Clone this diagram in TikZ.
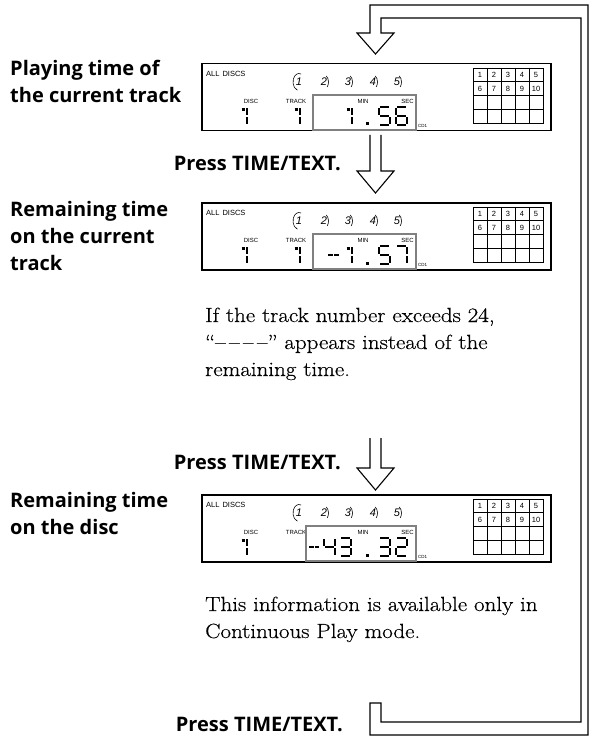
\documentclass[tikz,border=0pt]{standalone}
\usepackage{fontspec}
\setsansfont{Liberation Sans}
\newfontfamily\labelfont{Open Sans}
\newfontfamily\notefont[FakeStretch=1.12, FakeBold=0.4]{Latin Modern Roman}
\usepackage{tikz}
\usetikzlibrary{positioning}

% one 7-segment digit, #1/#2 top left, #3 list of segments
\newcommand{\lcd}[3]{%
  \begin{scope}[shift={(#1,#2)}]
    \coordinate (a1) at (0,0);  \coordinate (a2) at (11,0);
    \coordinate (b1) at (11,0); \coordinate (b2) at (11,9);
    \coordinate (c1) at (11,9); \coordinate (c2) at (11,18);
    \coordinate (d1) at (0,18); \coordinate (d2) at (11,18);
    \coordinate (e1) at (0,9);  \coordinate (e2) at (0,18);
    \coordinate (f1) at (0,0);  \coordinate (f2) at (0,9);
    \coordinate (g1) at (0,9);  \coordinate (g2) at (11,9);
    \coordinate (h1) at (4.5,2.5); \coordinate (h2) at (10,2.5);
    \foreach \s in {#3} \draw[lcdseg] (\s1) -- (\s2);
  \end{scope}}

% display frame with labels, #1 name, #2 left edge of the time box
\newcommand{\lcdpanel}[2]{%
  \node[panelframe, anchor=north west, minimum width=349pt, minimum height=67pt] (#1) at (0,0) {};
  \node[tinytext, font=\sffamily\fontsize{7.5}{8}\selectfont, anchor=west] (#1-all) at (5,11) {ALL\hspace{3pt}DISCS};
  \foreach \k/\x in {1/98,2/123,3/147,4/172,5/196}
    \node[discno] (#1-n\k) at (\x,19) {\k};
  \draw[line width=0.6pt] (98,19) ++(290:6 and 8.5) arc[start angle=290, end angle=105, x radius=6, y radius=8.5];
  \foreach \x in {123,147,172,196}
    \draw[line width=0.6pt] (\x,19) ++(-60:4.5 and 7) arc[start angle=-60, end angle=45, x radius=4.5, y radius=7];
  \node[tinytext] (#1-disc) at (50,38) {DISC};
  \node[tinytext] (#1-track) at (95,38) {TRACK};
  \draw[timebox] (#2,32) rectangle (215,67);
  \node[tinytext] (#1-min) at (162,38) {MIN};
  \node[tinytext, anchor=east] (#1-sec) at (213,38) {SEC};
  \node[tinytext, font=\sffamily\fontsize{4.5}{5}\selectfont, anchor=west] (#1-cd) at (217,63) {CD1};
  % disc grid
  \draw[line width=0.6pt] (272,5) rectangle (342,60);
  \foreach \x in {286,300,314,328} \draw[line width=0.6pt] (\x,5) -- (\x,60);
  \foreach \y in {18.75,32.5,46.25} \draw[line width=0.6pt] (272,\y) -- (342,\y);
  \foreach \k in {1,...,5} \node[gridno] (#1-g\k) at (265+14*\k,12) {\k};
  \foreach \k in {6,...,10} \node[gridno] (#1-g\k) at (195+14*\k,25.6) {\k};
}

\begin{document}
\begin{tikzpicture}[x=1pt, y=-1pt,
  loopline/.style={line width=1.1pt, line join=miter},
  panelframe/.style={draw, line width=1.5pt, inner sep=0pt},
  timebox/.style={draw=gray, line width=2pt, fill=white},
  tinytext/.style={font=\sffamily\fontsize{6}{6}\selectfont, inner sep=0pt},
  discno/.style={font=\sffamily\itshape\fontsize{11}{11}\selectfont, inner sep=0pt},
  gridno/.style={font=\sffamily\fontsize{7.5}{8}\selectfont, inner sep=0pt},
  lcdseg/.style={line width=2.6pt, shorten <=1.2pt, shorten >=1.2pt},
  lcdminus/.style={line width=2.6pt},
  labeltext/.style={font=\labelfont\bfseries\fontsize{20}{27}\selectfont, align=left, inner sep=0pt},
  notetext/.style={font=\notefont\fontsize{20.5}{27}\selectfont, align=left, inner sep=0pt}]
  \useasboundingbox (0,0) rectangle (601,738);

  % return loop and first arrow
  \draw[loopline] (370,703) -- (370,735) -- (588,735) -- (588,5) -- (370,5) -- (370,33) -- (357,33)
    -- (375.5,54) -- (394,33) -- (381,33) -- (381,18) -- (581,18) -- (581,722) -- (381,722) -- (381,703) -- cycle;
  \draw[loopline] (370,135) -- (370,171) -- (357,171) -- (375.5,193) -- (394,171) -- (381,171) -- (381,135);
  \draw[loopline] (370,438) -- (370,468) -- (357,468) -- (375.5,490) -- (394,468) -- (381,468) -- (381,438);

  \begin{scope}[shift={(201,63)}]
    \lcdpanel{d1}{112}
    \lcd{35}{44}{b,c,h} \lcd{88}{44}{b,c,h} \lcd{140}{44}{b,c,h}
    \fill (165,59.5) rectangle (168,62.5);
    \lcd{178}{44}{a,f,g,c,d} \lcd{195}{44}{a,f,g,e,c,d}
  \end{scope}

  \begin{scope}[shift={(201,202)}]
    \lcdpanel{d2}{112}
    \lcd{35}{44}{b,c,h} \lcd{88}{44}{b,c,h}
    \draw[lcdminus] (127,53) -- (131.5,53) (133,53) -- (138,53);
    \lcd{140}{44}{b,c,h}
    \fill (165,59.5) rectangle (168,62.5);
    \lcd{178}{44}{a,f,g,c,d} \lcd{195}{44}{a,b,c}
  \end{scope}

  \begin{scope}[shift={(201,494)}]
    \lcdpanel{d3}{105}
    \lcd{35}{44}{b,c,h}
    \draw[lcdminus] (108,53) -- (112.5,53) (114,53) -- (118,53);
    \lcd{123}{44}{f,g,b,c} \lcd{139}{44}{a,b,g,c,d}
    \fill (165,59.5) rectangle (168,62.5);
    \lcd{178}{44}{a,b,g,c,d} \lcd{195}{44}{a,b,g,e,d}
  \end{scope}

  % base of a multi-line node is its last line
  \node[labeltext, anchor=base west] (playing) at (10,103) {Playing time of\\the current track};
  \node[labeltext, anchor=base west] (remtrack) at (10,270) {Remaining time\\on the current\\track};
  \node[labeltext, anchor=base west] (remdisc) at (10,534) {Remaining time\\on the disc};
  \node[labeltext, anchor=base east] (press1) at (341,171) {Press TIME/TEXT.};
  \node[labeltext, anchor=base east] (press2) at (341,469) {Press TIME/TEXT.};
  \node[labeltext, anchor=base east] (press3) at (343,731) {Press TIME/TEXT.};
  \node[notetext, anchor=base west] (note1) at (205,376) {If the track number exceeds 24,\\“–\,–\,–\,–” appears instead of the\\remaining time.};
  \node[notetext, anchor=base west] (note2) at (205,638) {This information is available only in\\Continuous Play mode.};
\end{tikzpicture}
\end{document}
